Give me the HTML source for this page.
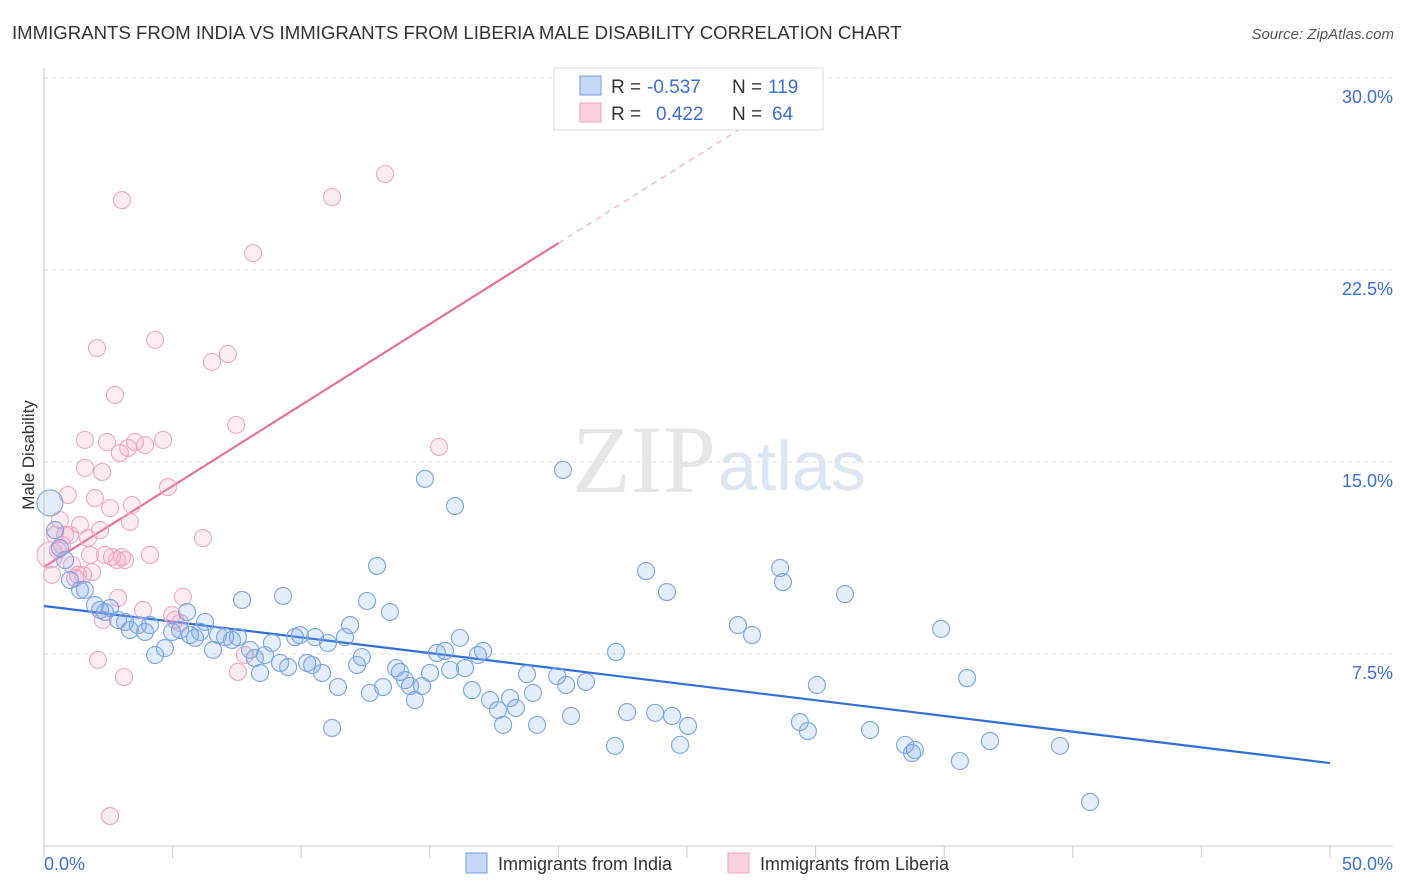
<!DOCTYPE html>
<html><head><meta charset="utf-8">
<style>
body{margin:0;background:#fff;font-family:"Liberation Sans",sans-serif;}
#c{position:relative;width:1406px;height:892px;overflow:hidden;}
</style></head>
<body>
<div id="c">
<svg id="s" width="1406" height="892" xmlns="http://www.w3.org/2000/svg">
<text x="12" y="39" font-size="18.6" fill="#333">IMMIGRANTS FROM INDIA VS IMMIGRANTS FROM LIBERIA MALE DISABILITY CORRELATION CHART</text>
<text x="1394" y="39" font-size="15" fill="#555" font-style="italic" text-anchor="end">Source: ZipAtlas.com</text>
<text transform="translate(34,455) rotate(-90)" font-size="17" fill="#333" text-anchor="middle">Male Disability</text>
<text x="716" y="492" font-size="96" fill="#e6e6e6" font-family="Liberation Serif,serif" text-anchor="end">ZIP</text>
<text x="718" y="490" font-size="70" fill="#dbe6f5" text-anchor="start">atlas</text>
<g id="grid"></g><g id="axes"></g><g id="trend"></g><g id="pts"></g>
<g font-size="19">
<rect x="554" y="68" width="269" height="62" fill="#fff" stroke="#ddd"/>
<rect x="580" y="76" width="21" height="19" fill="#c4d9f7" stroke="#6f9de0"/>
<rect x="580" y="103" width="21" height="19" fill="#fbd0de" stroke="#f0a0bc"/>
<text x="611" y="93" fill="#333">R =</text>
<text x="647" y="93" fill="#3d6fd6">-0.537</text>
<text x="732" y="93" fill="#333">N =</text>
<text x="768" y="93" fill="#3d6fd6">119</text>
<text x="611" y="120" fill="#333">R =</text>
<text x="656" y="120" fill="#3d6fd6">0.422</text>
<text x="732" y="120" fill="#333">N =</text>
<text x="772" y="120" fill="#3d6fd6">64</text>
</g>
<g>
<rect x="466" y="853" width="21" height="20" fill="#c4d9f7" stroke="#6f9de0"/>
<text x="498" y="870" font-size="18" fill="#333">Immigrants from India</text>
<rect x="728" y="853" width="21" height="20" fill="#fbd0de" stroke="#f0a0bc"/>
<text x="760" y="870" font-size="18" fill="#333">Immigrants from Liberia</text>
</g>
</svg>
</div>
<script>
const indiaX=[0.23,0.43,0.62,0.82,1.01,1.40,1.59,1.98,2.18,2.37,2.57,2.88,3.15,3.34,3.65,3.93,4.12,4.32,4.70,4.98,5.29,5.56,5.68,5.87,6.07,6.26,6.57,6.77,7.04,7.31,7.54,7.70,8.01,8.20,8.40,8.59,8.86,9.18,9.29,9.49,9.76,9.95,10.23,10.42,10.54,10.81,11.04,11.20,11.43,11.70,11.90,12.17,12.36,12.56,12.67,12.95,13.18,13.45,13.69,13.84,14.04,14.23,14.42,14.70,14.81,15.01,15.28,15.59,15.79,15.98,16.17,16.37,16.64,16.87,17.07,17.34,17.65,17.85,18.12,18.35,18.78,19.01,19.17,19.95,20.18,20.30,20.49,21.07,22.20,22.24,22.67,23.41,23.76,24.22,24.42,24.73,25.04,26.98,27.53,28.62,28.73,29.39,29.70,30.05,31.14,32.12,33.48,33.75,33.86,34.88,35.61,35.89,36.78,39.50,40.67];
const indiaY=[13.40,12.34,11.64,11.17,10.39,10.00,10.00,9.41,9.22,9.14,9.30,8.83,8.75,8.44,8.63,8.36,8.63,7.46,7.73,8.36,8.44,9.14,8.24,8.13,8.36,8.75,7.66,8.24,8.16,8.05,8.16,9.61,7.66,7.34,6.76,7.46,7.93,7.15,9.77,6.99,8.16,8.24,7.15,7.07,8.16,6.76,7.93,4.61,6.21,8.16,8.63,7.07,7.38,9.57,5.98,10.94,6.21,9.14,6.95,6.80,6.48,6.25,5.70,6.25,14.34,6.76,7.54,7.62,6.88,13.28,8.13,6.95,6.09,7.46,7.62,5.70,5.31,4.73,5.78,5.39,6.72,5.98,4.73,6.64,14.69,6.29,5.08,6.41,3.91,7.58,5.23,10.74,5.20,9.92,5.08,3.95,4.69,8.63,8.24,10.86,10.31,4.84,4.49,6.29,9.84,4.53,3.95,3.63,3.75,8.48,3.32,6.56,4.10,3.91,1.72];
const liberiaX=[0.23,0.31,0.43,0.54,0.62,0.70,0.82,0.93,1.01,1.09,1.21,1.32,1.40,1.52,1.59,1.59,1.71,1.79,1.87,1.98,2.06,2.10,2.18,2.26,2.29,2.37,2.45,2.57,2.57,2.64,2.76,2.84,2.88,2.95,3.03,3.03,3.11,3.15,3.27,3.34,3.42,3.54,3.85,3.93,4.12,4.32,4.63,4.82,4.98,5.09,5.29,5.40,6.18,6.53,7.15,7.47,7.54,7.81,8.13,11.20,13.26,15.36];
const liberiaY=[11.37,10.59,12.15,11.56,12.73,11.76,12.15,13.71,12.15,10.98,10.47,10.59,12.54,10.59,15.86,14.77,12.03,11.37,10.70,13.59,19.45,7.27,12.34,14.61,8.83,11.37,15.78,13.20,1.17,11.29,17.62,11.17,9.69,15.35,25.23,11.29,6.60,11.17,15.55,12.66,13.32,15.78,9.22,15.66,11.37,19.77,15.86,14.02,9.02,8.83,8.71,9.73,12.03,18.91,19.22,16.45,6.80,7.46,23.16,25.35,26.25,15.59];
const indiaTrend=[[0,9.375],[50,3.24]];
const liberiaTrend=[[0,10.9],[20,23.55]];
const liberiaTrendExt=[[20,23.55],[27.84,28.5]];
const yTicks=[7.5,15,22.5,30];
const yTickLabels=["7.5%","15.0%","22.5%","30.0%"];
const xTicks=[0,5,10,15,20,25,30,35,40,45,50];
const X=v=>44+v*25.72, Y=v=>846-v*25.6;
const NS="http://www.w3.org/2000/svg";
function mk(p,t,a){const e=document.createElementNS(NS,t);for(const k in a)e.setAttribute(k,a[k]);document.getElementById(p).appendChild(e);return e;}
yTicks.forEach((t,i)=>{
 const l=mk('grid','line',{x1:44,x2:1393,y1:Y(t),y2:Y(t),stroke:'#ddd','stroke-dasharray':'4,4'});
 
 
 const tx=mk('grid','text',{x:1393,y:Y(t)+25,'font-size':18,fill:'#3d6fd6','text-anchor':'end'});
 tx.textContent=yTickLabels[i];
 
 
});
let a=mk('axes','line',{x1:44,x2:44,y1:68,y2:846,stroke:'#ccc'});


a=mk('axes','line',{x1:44,x2:1393,y1:846,y2:846,stroke:'#ccc'});


xTicks.forEach(t=>{
 const l=mk('axes','line',{x1:X(t),x2:X(t),y1:846,y2:858,stroke:'#ccc'});
 
 
});
let tl=mk('axes','text',{x:44,y:870,'font-size':18,fill:'#3d6fd6'});tl.textContent=xTicks[0].toFixed(1)+'%';


tl=mk('axes','text',{x:1393,y:870,'font-size':18,fill:'#3d6fd6','text-anchor':'end'});tl.textContent=xTicks[xTicks.length-1].toFixed(1)+'%';


function pts(xs,ys,fill,stroke,name){xs.forEach((x,i)=>{
 const r=(x<0.3)?13:8.5;
 const c=mk('pts','circle',{cx:X(x),cy:Y(ys[i]),r:r,fill:fill,stroke:stroke,'stroke-width':1.1});
 
 
});}
pts(liberiaX,liberiaY,'rgba(244,170,198,0.22)','#f2a8c3','liberia-point');
pts(indiaX,indiaY,'rgba(120,165,230,0.2)','#7aa5e6','india-point');
function ln(d,st,dash,name,w){const l=mk('trend','line',{x1:X(d[0][0]),y1:Y(d[0][1]),x2:X(d[1][0]),y2:Y(d[1][1]),stroke:st,'stroke-width':w});
 if(dash)l.setAttribute('stroke-dasharray',dash);
 
 }
ln(indiaTrend,'#2f6fd8',null,'india-trendline',2.2);
ln(liberiaTrend,'#e8709a',null,'liberia-trendline',2.2);
ln(liberiaTrendExt,'#f0b0c8','6,5','liberia-trendline-extension',1.2);
</script>
</body></html>
